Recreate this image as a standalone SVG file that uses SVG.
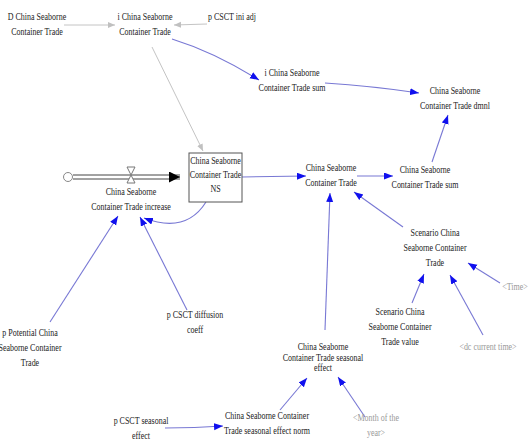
<svg xmlns="http://www.w3.org/2000/svg" width="529" height="446" viewBox="0 0 529 446">
<style>
text{font-family:'Liberation Serif','Times New Roman','DejaVu Serif',serif;font-size:10.5px;fill:#222;text-anchor:middle}
text.g{fill:#999}
.b{fill:none;stroke:#7878d4;stroke-width:1.1}
.gr{fill:none;stroke:#c4c4c4;stroke-width:1}
</style>
<defs>
<marker id="ab" markerUnits="userSpaceOnUse" markerWidth="10" markerHeight="8" refX="9" refY="3.5" orient="auto"><path d="M0,0 L9,3.5 L0,7 Z" fill="#1010ee"/></marker>
<marker id="ag" markerUnits="userSpaceOnUse" markerWidth="10" markerHeight="8" refX="7" refY="3" orient="auto"><path d="M0,0 L7,3 L0,6 Z" fill="#c0c0c0"/></marker>
<marker id="ak" markerUnits="userSpaceOnUse" markerWidth="14" markerHeight="12" refX="11" refY="5.5" orient="auto"><path d="M0,0 L11,5.5 L0,11 Z" fill="#000"/></marker>
</defs>
<rect width="529" height="446" fill="#fff"/>
<g id="connectors">
<line class="gr" x1="64" y1="25" x2="115" y2="25" marker-end="url(#ag)"/>
<line class="gr" x1="207" y1="24" x2="174" y2="25" marker-end="url(#ag)"/>
<line class="gr" x1="152" y1="47" x2="203" y2="151" marker-end="url(#ag)"/>
<path class="b" d="M172,39 Q214,52 259,80" marker-end="url(#ab)"/>
<path class="b" d="M325,83 Q372,86 419,93" marker-end="url(#ab)"/>
<line class="b" x1="432" y1="162" x2="448" y2="115" marker-end="url(#ab)"/>
<line class="b" x1="242" y1="177" x2="306" y2="176" marker-end="url(#ab)"/>
<line class="b" x1="357" y1="176" x2="393" y2="176" marker-end="url(#ab)"/>
<line class="b" x1="403" y1="227" x2="354" y2="192" marker-end="url(#ab)"/>
<line class="b" x1="412" y1="303" x2="424" y2="274" marker-end="url(#ab)"/>
<line class="b" x1="483" y1="335" x2="450" y2="275" marker-end="url(#ab)"/>
<line class="b" x1="500" y1="283" x2="468" y2="263" marker-end="url(#ab)"/>
<line class="b" x1="325" y1="330" x2="330" y2="193" marker-end="url(#ab)"/>
<line class="b" x1="280" y1="410" x2="307" y2="378" marker-end="url(#ab)"/>
<line class="b" x1="365" y1="417" x2="338" y2="377" marker-end="url(#ab)"/>
<path class="b" d="M165,428 Q195,428 223,426" marker-end="url(#ab)"/>
<line class="b" x1="50" y1="322" x2="118" y2="216" marker-end="url(#ab)"/>
<line class="b" x1="187" y1="310" x2="140" y2="217" marker-end="url(#ab)"/>
<path class="b" d="M206,202 Q186,234 144,218" marker-end="url(#ab)"/>
</g>
<g id="flow-pipe">
<circle cx="68" cy="177" r="4.5" fill="#fff" stroke="#888" stroke-width="1"/>
<line x1="73" y1="175" x2="180" y2="175" stroke="#444" stroke-width="1"/>
<line x1="73" y1="179" x2="180" y2="179" stroke="#444" stroke-width="1"/>
<line x1="178" y1="177" x2="180" y2="177" stroke="#000" stroke-width="1" marker-end="url(#ak)"/>
<path d="M127,167 L135,167 L127,183 L135,183 Z" fill="#fff" stroke="#777" stroke-width="1"/>
</g>
<g id="D_China"><text font-family="Liberation Serif, serif" transform="translate(37,20) scale(0.76,1)"><tspan x="0">D China Seaborne</tspan><tspan x="0" dy="15">Container Trade</tspan></text></g>
<g id="i_China"><text transform="translate(145,20) scale(0.76,1)"><tspan x="0">i China Seaborne</tspan><tspan x="0" dy="15">Container Trade</tspan></text></g>
<g id="p_CSCT_ini_adj"><text transform="translate(232,20) scale(0.76,1)">p CSCT ini adj</text></g>
<g id="i_sum"><text transform="translate(292,76) scale(0.76,1)"><tspan x="0">i China Seaborne</tspan><tspan x="0" dy="15">Container Trade sum</tspan></text></g>
<g id="dmnl"><text transform="translate(455,94) scale(0.76,1)"><tspan x="0">China Seaborne</tspan><tspan x="0" dy="15">Container Trade dmnl</tspan></text></g>
<g id="stock_NS"><rect x="189" y="153" width="53" height="49" fill="#fff" stroke="#555" stroke-width="1"/><text transform="translate(215.5,164) scale(0.76,1)"><tspan x="0">China Seaborne</tspan><tspan x="0" dy="14">Container Trade</tspan><tspan x="0" dy="14">NS</tspan></text></g>
<g id="increase"><text transform="translate(131,195) scale(0.76,1)"><tspan x="0">China Seaborne</tspan><tspan x="0" dy="15">Container Trade increase</tspan></text></g>
<g id="main"><text transform="translate(331,171) scale(0.76,1)"><tspan x="0">China Seaborne</tspan><tspan x="0" dy="15">Container Trade</tspan></text></g>
<g id="sum"><text transform="translate(425,173) scale(0.76,1)"><tspan x="0">China Seaborne</tspan><tspan x="0" dy="15">Container Trade sum</tspan></text></g>
<g id="scenario"><text transform="translate(435,236) scale(0.76,1)"><tspan x="0">Scenario China</tspan><tspan x="0" dy="15">Seaborne Container</tspan><tspan x="0" dy="15">Trade</tspan></text></g>
<g id="Time"><text class="g" transform="translate(515,290) scale(0.76,1)">&lt;Time&gt;</text></g>
<g id="scenario_value"><text transform="translate(400,315) scale(0.76,1)"><tspan x="0">Scenario China</tspan><tspan x="0" dy="15">Seaborne Container</tspan><tspan x="0" dy="15">Trade value</tspan></text></g>
<g id="dc_current_time"><text class="g" transform="translate(488,350) scale(0.76,1)">&lt;dc current time&gt;</text></g>
<g id="p_potential"><text transform="translate(30,336) scale(0.76,1)"><tspan x="0">p Potential China</tspan><tspan x="0" dy="15">Seaborne Container</tspan><tspan x="0" dy="15">Trade</tspan></text></g>
<g id="p_diffusion"><text transform="translate(195,318) scale(0.76,1)"><tspan x="0">p CSCT diffusion</tspan><tspan x="0" dy="15">coeff</tspan></text></g>
<g id="seasonal_effect"><text transform="translate(323,350) scale(0.76,1)"><tspan x="0">China Seaborne</tspan><tspan x="0" dy="11">Container Trade seasonal</tspan><tspan x="0" dy="10">effect</tspan></text></g>
<g id="p_seasonal"><text transform="translate(141,424) scale(0.76,1)"><tspan x="0">p CSCT seasonal</tspan><tspan x="0" dy="15">effect</tspan></text></g>
<g id="seasonal_norm"><text transform="translate(267,419) scale(0.76,1)"><tspan x="0">China Seaborne Container</tspan><tspan x="0" dy="15">Trade seasonal effect norm</tspan></text></g>
<g id="month"><text class="g" transform="translate(376,421) scale(0.76,1)"><tspan x="0">&lt;Month of the</tspan><tspan x="0" dy="15">year&gt;</tspan></text></g>
</svg>
